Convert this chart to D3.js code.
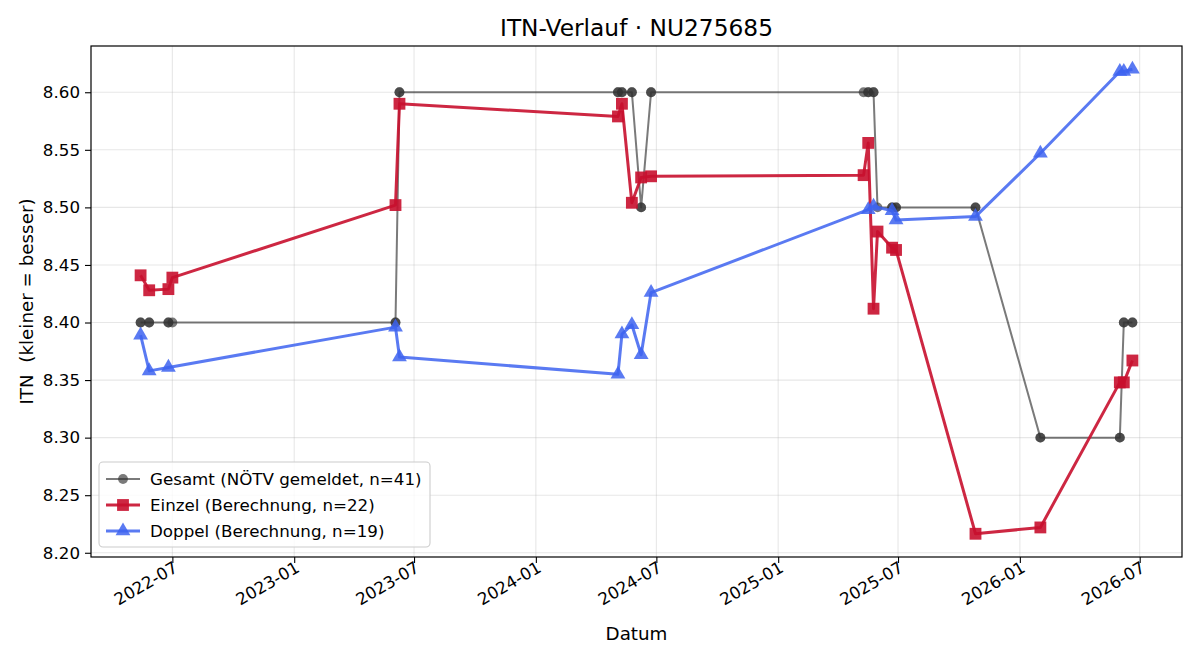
<!DOCTYPE html>
<html><head><meta charset="utf-8">
<script src="https://cdn.jsdelivr.net/npm/d3@7"></script>
<style>
html,body{margin:0;padding:0;background:#fff;}
svg{display:block;font-family:"DejaVu Sans",sans-serif;}
</style></head>
<body>
<svg id="chart" width="1200" height="660"></svg>
<script>
// ---- data ----
const einzelDates = ["2022-05-14","2022-05-27","2022-06-25","2022-07-01","2023-06-03","2023-06-09","2024-05-04","2024-05-10","2024-05-25","2024-06-08","2024-06-23","2025-05-10","2025-05-17","2025-05-25","2025-05-31","2025-06-22","2025-06-28","2025-10-26","2026-02-01","2026-06-01","2026-06-07","2026-06-20"];
const einzelValues = [8.441,8.428,8.429,8.439,8.502,8.590,8.579,8.590,8.504,8.526,8.527,8.528,8.556,8.412,8.479,8.465,8.463,8.2165,8.222,8.348,8.348,8.367];

const doppelDates = ["2022-05-14","2022-05-27","2022-06-25","2023-06-03","2023-06-09","2024-05-04","2024-05-10","2024-05-25","2024-06-08","2024-06-23","2025-05-17","2025-05-25","2025-06-22","2025-06-28","2025-10-26","2026-02-01","2026-06-01","2026-06-07","2026-06-20"];
const doppelValues = [8.389,8.358,8.361,8.396,8.370,8.355,8.390,8.398,8.372,8.426,8.498,8.501,8.497,8.489,8.492,8.547,8.618,8.618,8.620];

const gesamtDates = ["2022-05-14","2022-05-14","2022-05-27","2022-05-27","2022-06-25","2022-06-25","2022-07-01",
  "2023-06-03","2023-06-03","2023-06-09","2023-06-09",
  "2024-05-04","2024-05-04","2024-05-10","2024-05-10","2024-05-25","2024-05-25","2024-06-08","2024-06-08","2024-06-23","2024-06-23",
  "2025-05-10","2025-05-17","2025-05-17","2025-05-25","2025-05-25","2025-05-31","2025-06-22","2025-06-22","2025-06-28","2025-06-28",
  "2025-10-26","2025-10-26","2026-02-01","2026-02-01","2026-06-01","2026-06-01","2026-06-07","2026-06-07","2026-06-20","2026-06-20"];
const gesamtValues = [8.40,8.40,8.40,8.40,8.40,8.40,8.40,
  8.40,8.40,8.60,8.60,
  8.60,8.60,8.60,8.60,8.60,8.60,8.50,8.50,8.60,8.60,
  8.60,8.60,8.60,8.60,8.60,8.50,8.50,8.50,8.50,8.50,
  8.50,8.50,8.30,8.30,8.30,8.30,8.40,8.40,8.40,8.40];

const xTickLabels = ["2022-07","2023-01","2023-07","2024-01","2024-07","2025-01","2025-07","2026-01","2026-07"];
const yTickValues = [8.20,8.25,8.30,8.35,8.40,8.45,8.50,8.55,8.60];

const titleText = "ITN-Verlauf · NU275685";
const xLabel = "Datum";
const yLabel = "ITN  (kleiner = besser)";
const legendLabels = ["Gesamt (NÖTV gemeldet, n=41)","Einzel (Berechnung, n=22)","Doppel (Berechnung, n=19)"];

// ---- setup ----
const parse = d3.timeParse("%Y-%m-%d");
const parseM = d3.timeParse("%Y-%m");
const mk = (ds, vs) => ds.map((d,i)=>({date:parse(d), value:vs[i]}));
const gesamt = mk(gesamtDates, gesamtValues);
const einzel = mk(einzelDates, einzelValues);
const doppel = mk(doppelDates, doppelValues);
const all = gesamt.concat(einzel, doppel);

const svg = d3.select("#chart");
const L = 91, R = 1182, T = 46, B = 557;

const xExt = d3.extent(all, d=>d.date);
const xSpan = xExt[1]-xExt[0];
const x = d3.scaleTime()
  .domain([new Date(+xExt[0]-0.05*xSpan), new Date(+xExt[1]+0.05*xSpan)])
  .range([L, R]);
const yExt = d3.extent(all, d=>d.value);
const ySpan = yExt[1]-yExt[0];
const y = d3.scaleLinear()
  .domain([yExt[0]-0.05*ySpan, yExt[1]+0.05*ySpan])
  .range([B, T]);

const xTicks = xTickLabels.map(parseM);

// grid
const grid = svg.append("g");
grid.selectAll("line.gx").data(xTicks).enter().append("line")
  .attr("x1", d=>x(d)).attr("x2", d=>x(d)).attr("y1", T).attr("y2", B)
  .attr("stroke", "#b0b0b0").attr("stroke-opacity", 0.3).attr("stroke-width", 1.1);
grid.selectAll("line.gy").data(yTickValues).enter().append("line")
  .attr("x1", L).attr("x2", R).attr("y1", d=>y(d)).attr("y2", d=>y(d))
  .attr("stroke", "#b0b0b0").attr("stroke-opacity", 0.3).attr("stroke-width", 1.1);

// axes
const xAxis = svg.append("g").attr("transform", `translate(0,${B})`)
  .call(d3.axisBottom(x).tickValues(xTicks).tickFormat(d3.timeFormat("%Y-%m")).tickSizeOuter(0).tickSize(6).tickPadding(4));
xAxis.select(".domain").remove();
xAxis.selectAll("line").attr("stroke", "#000").attr("stroke-width", 1.1);
xAxis.selectAll("text")
  .attr("font-size", 16.7).attr("fill", "#000").attr("font-family", "DejaVu Sans")
  .attr("text-anchor", "end").attr("dy", null).attr("y", 0).attr("x", 0)
  .attr("transform", "translate(6,14) rotate(-30)");

const yAxis = svg.append("g").attr("transform", `translate(${L},0)`)
  .call(d3.axisLeft(y).tickValues(yTickValues).tickFormat(d3.format(".2f")).tickSizeOuter(0).tickSize(6).tickPadding(5));
yAxis.select(".domain").remove();
yAxis.selectAll("line").attr("stroke", "#000").attr("stroke-width", 1.1);
yAxis.selectAll("text").attr("font-size", 16.7).attr("fill", "#000").attr("font-family", "DejaVu Sans");

// series
const series = [
  {data: gesamt, color: "#333333", op: 0.65, lw: 2, marker: "circle"},
  {data: einzel, color: "#c8102e", op: 0.9, lw: 3, marker: "square"},
  {data: doppel, color: "#3d63f0", op: 0.85, lw: 3, marker: "triangle"}
];
const symFor = m => m==="circle" ? d3.symbol().type(d3.symbolCircle).size(76)
  : m==="square" ? d3.symbol().type(d3.symbolSquare).size(140)
  : d3.symbol().type(d3.symbolTriangle).size(95);

const line = d3.line().x(d=>x(d.date)).y(d=>y(d.value));
const plot = svg.append("g");
series.forEach(s=>{
  const g = plot.append("g");
  g.append("path").datum(s.data).attr("d", line)
    .attr("fill", "none").attr("stroke", s.color).attr("stroke-opacity", s.op)
    .attr("stroke-width", s.lw).attr("stroke-linejoin", "round");
  g.selectAll("path.m").data(s.data).enter().append("path")
    .attr("d", symFor(s.marker))
    .attr("transform", d=>`translate(${x(d.date)},${y(d.value)})`)
    .attr("fill", s.color).attr("fill-opacity", s.op);
});

// frame
svg.append("rect").attr("x", L).attr("y", T).attr("width", R-L).attr("height", B-T)
  .attr("fill", "none").attr("stroke", "#000").attr("stroke-width", 1.2);

// title and labels
svg.append("text").attr("x", (L+R)/2).attr("y", 36).attr("text-anchor", "middle")
  .attr("font-size", 23.3).attr("fill", "#000").text(titleText);
svg.append("text").attr("x", (L+R)/2).attr("y", 640).attr("text-anchor", "middle")
  .attr("font-size", 18.3).attr("fill", "#000").text(xLabel);
svg.append("text").attr("transform", `translate(33,${(T+B)/2}) rotate(-90)`)
  .attr("text-anchor", "middle").attr("font-size", 18.3).attr("fill", "#000")
  .style("white-space", "pre").text(yLabel);

// legend
const lg = svg.append("g");
lg.append("rect").attr("x", 99).attr("y", 462).attr("width", 331).attr("height", 85)
  .attr("rx", 4).attr("fill", "#fff").attr("fill-opacity", 0.8).attr("stroke", "#cccccc").attr("stroke-width", 1.1);
series.forEach((s,i)=>{
  const yy = 479 + i*26;
  lg.append("line").attr("x1", 106).attr("x2", 140).attr("y1", yy).attr("y2", yy)
    .attr("stroke", s.color).attr("stroke-opacity", s.op).attr("stroke-width", s.lw);
  lg.append("path").attr("d", symFor(s.marker)).attr("transform", `translate(123,${yy})`)
    .attr("fill", s.color).attr("fill-opacity", s.op);
  lg.append("text").attr("x", 150).attr("y", yy+6).attr("font-size", 16.7).attr("fill", "#000").text(legendLabels[i]);
});
</script>
</body></html>
